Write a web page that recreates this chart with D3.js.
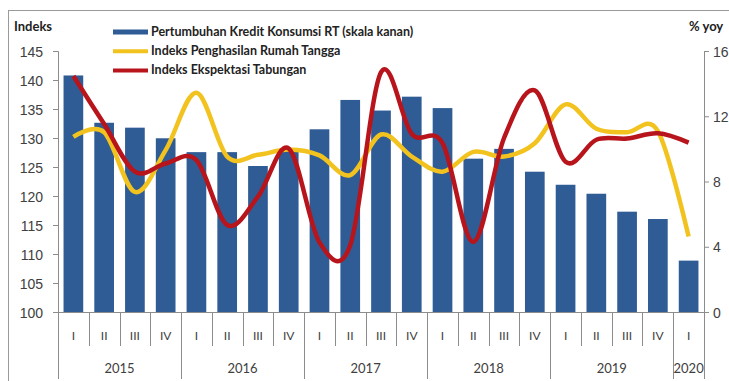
<!DOCTYPE html>
<html>
<head>
<meta charset="utf-8">
<script src="https://cdn.jsdelivr.net/npm/d3@7"></script>
<style>
  html, body { margin: 0; padding: 0; background: #fff; }
  svg { display: block; font-family: Lato, "Open Sans", sans-serif; }
</style>
</head>
<body>
<svg id="chart" width="729" height="381"></svg>
<script>
// ---- data ----
const quarters = ["I","II","III","IV","I","II","III","IV","I","II","III","IV","I","II","III","IV","I","II","III","IV","I"];
const years = [
  {label: "2015", start: 0, end: 4},
  {label: "2016", start: 4, end: 8},
  {label: "2017", start: 8, end: 12},
  {label: "2018", start: 12, end: 16},
  {label: "2019", start: 16, end: 20},
  {label: "2020", start: 20, end: 21}
];
// Pertumbuhan Kredit Konsumsi RT (% yoy, right axis)
const kredit = [14.5, 11.6, 11.3, 10.65, 9.8, 9.8, 8.95, 9.9, 11.2, 13.0, 12.35, 13.2, 12.5, 9.4, 10.0, 8.6, 7.8, 7.25, 6.15, 5.7, 3.15];
// Indeks Penghasilan Rumah Tangga (left axis)
const penghasilan = [130.2, 131.0, 120.7, 127.9, 137.8, 126.8, 127.1, 128.0, 127.0, 123.6, 130.6, 126.8, 124.2, 127.6, 126.8, 129.1, 135.8, 131.6, 131.0, 131.2, 113.0];
// Indeks Ekspektasi Tabungan (left axis)
const tabungan = [140.7, 132.4, 124.2, 125.6, 126.2, 115.0, 119.9, 128.2, 112.0, 111.5, 141.3, 130.7, 129.1, 112.1, 130.0, 138.2, 125.9, 129.7, 129.9, 130.8, 129.2];
const leftTicks = [100,105,110,115,120,125,130,135,140,145];
const rightTicks = [0,4,8,12,16];
const legendItems = [
  {label: "Pertumbuhan Kredit Konsumsi RT (skala kanan)", type: "bar"},
  {label: "Indeks Penghasilan Rumah Tangga", type: "yellow"},
  {label: "Indeks Ekspektasi Tabungan", type: "red"}
];

// ---- layout ----
const colors = {bar: "#2f5c95", yellow: "#f2c21f", red: "#b8141c", axis: "#8c8c8c", text: "#404040"};
const svg = d3.select("#chart");
const L = 58, R = 704, T = 51, B = 312;

const x = d3.scaleBand().domain(d3.range(quarters.length)).range([L, R]).paddingInner(0.36).paddingOuter(0.18);
const xEdge = d3.scaleLinear().domain([0, quarters.length]).range([L, R]);
const yL = d3.scaleLinear().domain([100, 145]).range([B, T]);
const yR = d3.scaleLinear().domain([0, 16]).range([B, T]);

// outer frame
svg.append("rect").attr("x", 8.5).attr("y", 10.5).attr("width", 740).attr("height", 400)
  .attr("fill", "none").attr("stroke", "#9a9a9a").attr("stroke-width", 1);

// bars
svg.append("g").selectAll("rect").data(kredit).join("rect")
  .attr("x", (d, i) => x(i)).attr("width", x.bandwidth())
  .attr("y", d => yR(d)).attr("height", d => yR(0) - yR(d))
  .attr("fill", colors.bar);

// lines
const cx = i => x(i) + x.bandwidth() / 2;
const line = d3.line().x((d, i) => cx(i)).y(d => yL(d)).curve(d3.curveCatmullRom.alpha(0));
svg.append("path").datum(penghasilan).attr("d", line)
  .attr("fill", "none").attr("stroke", colors.yellow).attr("stroke-width", 4.5).attr("stroke-linejoin", "round");
svg.append("path").datum(tabungan).attr("d", line)
  .attr("fill", "none").attr("stroke", colors.red).attr("stroke-width", 4.5).attr("stroke-linejoin", "round");

// left axis
const gL = svg.append("g").attr("transform", `translate(${L},0)`)
  .call(d3.axisLeft(yL).tickValues(leftTicks).tickSize(5).tickPadding(10));
gL.select(".domain").attr("stroke", colors.axis);
gL.selectAll(".tick line").attr("stroke", colors.axis);
gL.selectAll(".tick text").attr("fill", colors.text).style("font-size", "14px").attr("dy", "0.36em");

// right axis
const gR = svg.append("g").attr("transform", `translate(${R},0)`)
  .call(d3.axisRight(yR).tickValues(rightTicks).tickSize(5).tickPadding(4));
gR.select(".domain").attr("stroke", colors.axis);
gR.selectAll(".tick line").attr("stroke", colors.axis);
gR.selectAll(".tick text").attr("fill", colors.text).style("font-size", "14px").attr("dy", "0.36em");

// x baseline
svg.append("line").attr("x1", L).attr("x2", R).attr("y1", B + 0.5).attr("y2", B + 0.5).attr("stroke", colors.axis);

// quarter separators
const gx = svg.append("g");
d3.range(quarters.length + 1).forEach(k => {
  const isYear = years.some(yy => yy.start === k) || k === quarters.length;
  gx.append("line").attr("x1", Math.round(xEdge(k)) + 0.5).attr("x2", Math.round(xEdge(k)) + 0.5)
    .attr("y1", B).attr("y2", isYear ? 379 : 346).attr("stroke", colors.axis);
});
gx.selectAll("text.q").data(quarters).join("text").attr("class", "q")
  .attr("x", (d, i) => cx(i)).attr("y", 340).attr("text-anchor", "middle")
  .attr("fill", colors.text).style("font-size", "12px").text(d => d);
gx.selectAll("text.y").data(years).join("text").attr("class", "y")
  .attr("x", d => (xEdge(d.start) + xEdge(d.end)) / 2).attr("y", 373).attr("text-anchor", "middle")
  .attr("fill", colors.text).style("font-size", "13px").text(d => d.label);

// axis titles
svg.append("text").attr("x", 14).attr("y", 31).attr("fill", "#222").style("font-size", "13px").style("font-weight", "bold").text("Indeks");
svg.append("text").attr("x", 689).attr("y", 31).attr("fill", "#222").style("font-size", "13px").style("font-weight", "bold").text("% yoy");

// legend
const lg = svg.append("g");
legendItems.forEach((d, i) => {
  const yy = 32 + i * 19.2;
  if (d.type === "bar") {
    lg.append("rect").attr("x", 113).attr("y", yy - 2.5).attr("width", 35).attr("height", 5).attr("fill", colors.bar);
  } else {
    lg.append("line").attr("x1", 113).attr("x2", 148).attr("y1", yy).attr("y2", yy)
      .attr("stroke", colors[d.type]).attr("stroke-width", 4);
  }
  lg.append("text").attr("x", 151).attr("y", yy + 4).attr("fill", "#222")
    .style("font-size", "12.5px").style("font-weight", "bold").text(d.label);
});
</script>
</body>
</html>
